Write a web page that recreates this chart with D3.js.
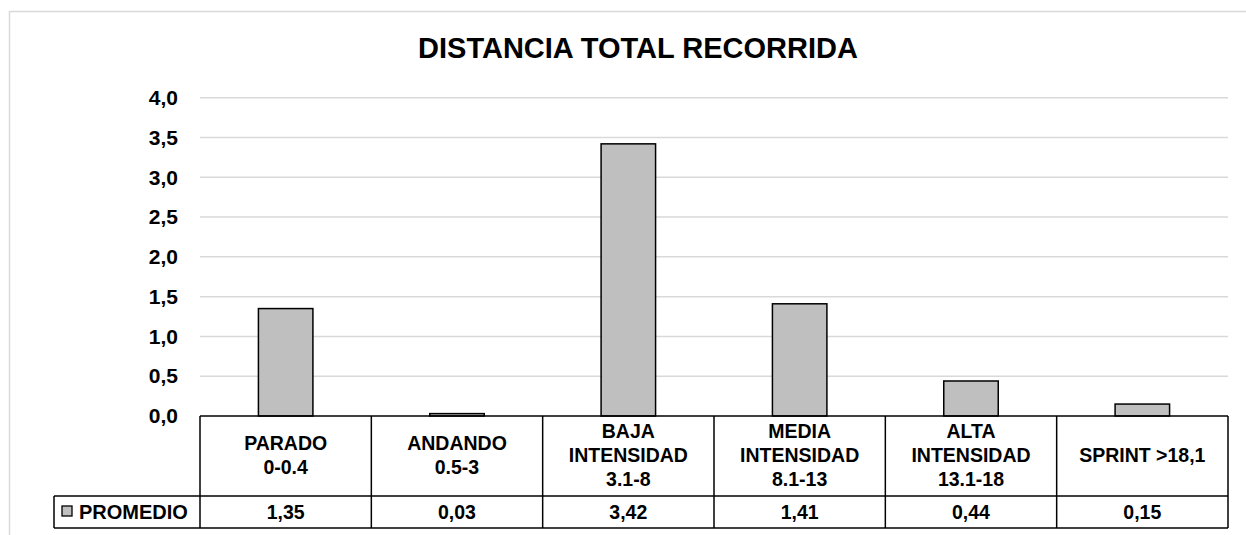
<!DOCTYPE html>
<html>
<head>
<meta charset="utf-8">
<script src="https://cdn.jsdelivr.net/npm/d3@7"></script>
<style>
  html, body { margin: 0; padding: 0; background: #fff; }
  svg { display: block; font-family: "Liberation Sans", Arial, sans-serif; font-weight: bold; }
</style>
</head>
<body>
<svg id="chart" width="1246" height="535"></svg>
<script>
// Distance covered per speed band (km), average values
const chartTitle = "DISTANCIA TOTAL RECORRIDA";
const categories = [
  ["PARADO", "0-0.4"],
  ["ANDANDO", "0.5-3"],
  ["BAJA", "INTENSIDAD", "3.1-8"],
  ["MEDIA", "INTENSIDAD", "8.1-13"],
  ["ALTA", "INTENSIDAD", "13.1-18"],
  ["SPRINT >18,1"]
];
const seriesName = "PROMEDIO";
const promedio = [1.35, 0.03, 3.42, 1.41, 0.44, 0.15];
const yTicks = [0, 0.5, 1, 1.5, 2, 2.5, 3, 3.5, 4];

const svg = d3.select("#chart");
const W = 1246, H = 535;

// outer chart frame
svg.append("rect")
  .attr("x", 9.5).attr("y", 11.5)
  .attr("width", W).attr("height", H)
  .attr("fill", "#fff").attr("stroke", "#d9d9d9").attr("stroke-width", 1.5);

const plot = { left: 200, right: 1228, top: 97.7, bottom: 416 };
const headerBottom = 496, tableBottom = 528, legendLeft = 54;

const x = d3.scaleBand()
  .domain(d3.range(categories.length))
  .range([plot.left, plot.right])
  .paddingInner(0).paddingOuter(0);

const y = d3.scaleLinear().domain([0, 4]).range([plot.bottom, plot.top]);

const fmt = v => d3.format(".1f")(v).replace(".", ",");
const fmt2 = v => d3.format(".2f")(v).replace(".", ",");

// horizontal gridlines
svg.append("g")
  .selectAll("line")
  .data(yTicks.filter(t => t > 0))
  .join("line")
  .attr("x1", plot.left).attr("x2", plot.right)
  .attr("y1", d => y(d)).attr("y2", d => y(d))
  .attr("stroke", "#d9d9d9").attr("stroke-width", 1.5);

// y-axis labels
const yAxis = d3.axisLeft(y).tickValues(yTicks).tickFormat(fmt).tickSize(0).tickPadding(22);
const gy = svg.append("g").attr("transform", `translate(${plot.left},0)`).call(yAxis);
gy.select(".domain").remove();
gy.selectAll("text")
  .attr("font-size", 21).attr("font-weight", "bold")
  .attr("font-family", "Liberation Sans, Arial, sans-serif")
  .attr("fill", "#000");

// bars
const barW = x.bandwidth() * 0.318;
svg.append("g")
  .selectAll("rect")
  .data(promedio)
  .join("rect")
  .attr("x", (d, i) => x(i) + (x.bandwidth() - barW) / 2)
  .attr("y", d => y(d))
  .attr("width", barW)
  .attr("height", d => y(0) - y(d))
  .attr("fill", "#bfbfbf").attr("stroke", "#000").attr("stroke-width", 1.5);

// data table
const table = svg.append("g").attr("stroke", "#000").attr("stroke-width", 1.5);
table.append("line").attr("x1", plot.left).attr("x2", plot.right).attr("y1", plot.bottom).attr("y2", plot.bottom);
table.append("line").attr("x1", legendLeft).attr("x2", plot.right).attr("y1", headerBottom).attr("y2", headerBottom);
table.append("line").attr("x1", legendLeft).attr("x2", plot.right).attr("y1", tableBottom).attr("y2", tableBottom);
table.append("line").attr("x1", legendLeft).attr("x2", legendLeft).attr("y1", headerBottom).attr("y2", tableBottom);
table.selectAll(".vline")
  .data(d3.range(categories.length + 1))
  .join("line")
  .attr("class", "vline")
  .attr("x1", i => i < categories.length ? x(i) : plot.right)
  .attr("x2", i => i < categories.length ? x(i) : plot.right)
  .attr("y1", plot.bottom).attr("y2", tableBottom);

// category headers
const lineH = 24;
const headerMid = (plot.bottom + headerBottom) / 2;
svg.append("g")
  .selectAll("text")
  .data(categories)
  .join("text")
  .attr("text-anchor", "middle")
  .attr("font-size", 19.5)
  .attr("fill", "#000")
  .each(function (lines, i) {
    const t = d3.select(this);
    const cx = x(i) + x.bandwidth() / 2;
    const y0 = headerMid - (lines.length - 1) * lineH / 2 - 1;
    lines.forEach((s, k) => {
      t.append("tspan").attr("x", cx).attr("y", y0 + k * lineH).attr("dy", "0.36em").text(s);
    });
  });

// values row
svg.append("g")
  .selectAll("text")
  .data(promedio)
  .join("text")
  .attr("x", (d, i) => x(i) + x.bandwidth() / 2)
  .attr("y", (headerBottom + tableBottom) / 2)
  .attr("dy", "0.36em")
  .attr("text-anchor", "middle")
  .attr("font-size", 19.5)
  .attr("fill", "#000")
  .text(fmt2);

// legend key + series name
svg.append("rect")
  .attr("x", 62).attr("y", 506).attr("width", 10).attr("height", 10)
  .attr("fill", "#bfbfbf").attr("stroke", "#000").attr("stroke-width", 1.3);
svg.append("text")
  .attr("x", 79).attr("y", (headerBottom + tableBottom) / 2).attr("dy", "0.36em")
  .attr("font-size", 20).attr("fill", "#000")
  .text(seriesName);

// title
svg.append("text")
  .attr("x", (plot.left + plot.right) / 2 - 76).attr("y", 58)
  .attr("text-anchor", "middle")
  .attr("font-size", 29).attr("fill", "#000")
  .text(chartTitle);
</script>
</body>
</html>
